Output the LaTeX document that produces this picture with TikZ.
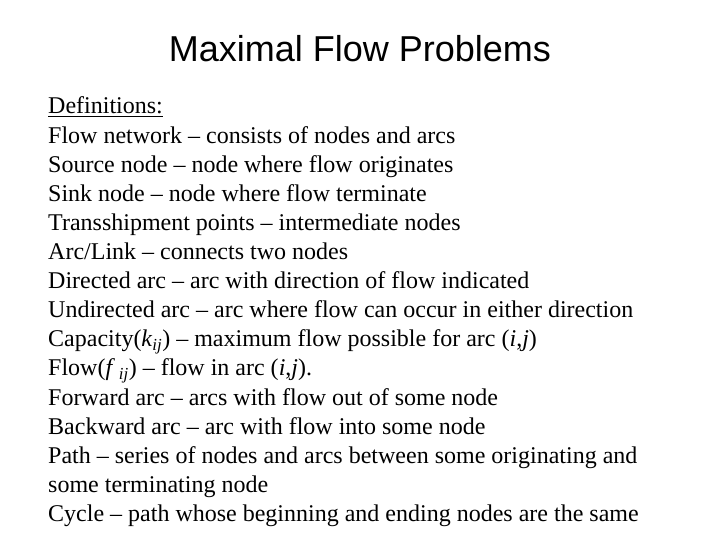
\documentclass[tikz,border=0pt]{standalone}
\usepackage{fontspec}
\setmainfont{Liberation Serif}
\newfontfamily\titlefont{Liberation Sans}
\begin{document}
\begin{tikzpicture}[x=1pt,y=-1pt,
  ln/.style={anchor=base west,inner sep=0pt,font=\fontsize{24}{28}\selectfont}]
\useasboundingbox (0,0) rectangle (720,540);
\node[font=\titlefont\fontsize{36}{42}\selectfont,anchor=base] (title) at (360,62) {Maximal Flow Problems};
\foreach \t [count=\i from 0] in {%
  {\underline{Definitions:}},
  {Flow network -- consists of nodes and arcs},
  {Source node -- node where flow originates},
  {Sink node -- node where flow terminate},
  {Transshipment points -- intermediate nodes},
  {Arc/Link -- connects two nodes},
  {Directed arc -- arc with direction of flow indicated},
  {Undirected arc -- arc where flow can occur in either direction},
  {Capacity(\textit{k}\textsubscript{\textit{ij}}) -- maximum flow possible for arc (\textit{i},\textit{j})},
  {Flow(\textit{f}\,\textsubscript{\textit{ij}}) -- flow in arc (\textit{i},\textit{j}).},
  {Forward arc -- arcs with flow out of some node},
  {Backward arc -- arc with flow into some node},
  {Path -- series of nodes and arcs between some originating and},
  {some terminating node},
  {Cycle -- path whose beginning and ending nodes are the same}}
  \node[ln] (l\i) at (48,{114+29.1*\i}) {\t};
\end{tikzpicture}
\end{document}
